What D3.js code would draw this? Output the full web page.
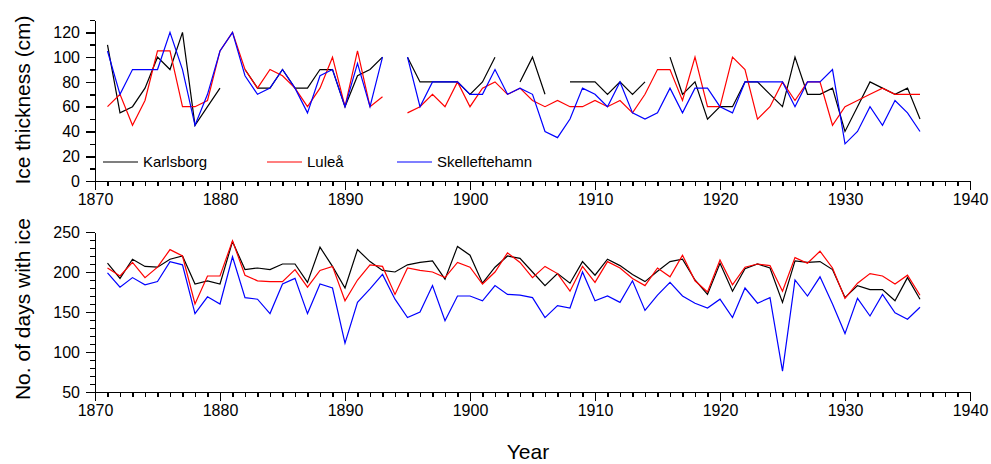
<!DOCTYPE html>
<html>
<head>
<meta charset="utf-8">
<script src="https://cdn.jsdelivr.net/npm/d3@7"></script>
<style>
  html, body { margin: 0; padding: 0; background: #fff; }
  svg { display: block; font-family: "Liberation Sans", Arial, sans-serif; }
  .axis path, .axis line { stroke: #000; stroke-width: 1.6px; shape-rendering: crispEdges; }
  .axis text { font-size: 16px; fill: #000; font-family: "Liberation Sans", Arial, sans-serif; }
</style>
</head>
<body>
<svg id="chart" width="991" height="464"></svg>
<script>
// Years of record
const years = d3.range(1871, 1937);

// Maximum ice thickness (cm); null = no observation
const karlsborgThickness = [110,55,60,75,100,90,120,45,60,75, null,90,75,75,90,75,75,90,90,60, 85,90,100,null,100,80,80,80,80,70, 80,100,null,80,100,70,null,80,80,80, 70,80,70,80,null,100,70,80,50,60, 60,80,80,70,60,100,70,70,75,40, 60,80,75,70,75,50];
const luleaThickness     = [60,70,45,65,105,105,60,60,65,105, 120,90,75,90,85,75,60,75,100,60, 105,60,68,null,55,60,70,60,80,60, 75,80,70,75,65,60,65,60,60,65, 60,65,55,70,90,90,65,100,60,60, 100,90,50,60,80,65,80,80,45,60, 65,70,75,70,70,70];
const skellefteThickness = [105,70,90,90,90,120,90,45,70,105, 120,85,70,75,90,75,55,85,90,60, 95,60,100,null,100,60,80,80,80,70, 70,90,70,75,70,40,35,50,75,70, 60,80,55,50,55,75,55,75,75,60, 55,80,80,80,80,60,80,80,90,30, 40,60,45,65,55,40];

// Number of days with ice
const karlsborgDays = [211,192,216,207,206,216,220,185,189,185, 238,203,205,203,210,210,187,231,207,180, 228,213,202,200,209,212,214,191,232,221, 186,206,220,217,200,183,198,186,213,196, 216,208,197,188,201,213,216,190,172,211, 176,204,210,205,162,214,212,213,203,168, 183,178,178,164,193,166];
const luleaDays     = [205,195,212,193,206,228,220,160,195,195, 239,196,189,188,188,203,181,202,207,164, 190,209,207,172,205,202,200,193,212,206, 185,200,224,212,193,207,198,176,207,187, 213,205,192,183,205,194,221,189,175,215, 184,206,210,208,176,218,211,226,205,167, 186,198,195,185,196,171];
const skellefteDays = [199,181,193,184,188,213,209,148,169,160, 219,168,166,148,185,192,148,185,180,111, 162,179,197,166,143,150,183,139,170,170, 164,183,172,171,168,143,158,155,200,164, 170,162,189,152,171,187,170,161,155,166, 143,180,161,168,76,190,170,194,160,123, 167,145,172,149,141,156];

const stationNames  = ["Karlsborg", "Luleå", "Skelleftehamn"];
const stationColors = ["#000000", "#ff0000", "#0000ff"];

// Axis tick values
const xMajorTicks = d3.range(1870, 1941, 10);
const xMinorTicks = d3.range(1870, 1941, 1);
const thickMajorTicks = [0, 20, 40, 60, 80, 100, 120];
const thickMinorTicks = d3.range(0, 131, 10);
const daysMajorTicks = [50, 100, 150, 200, 250];
const daysMinorTicks = d3.range(50, 251, 10);

const svg = d3.select("#chart");

const x = d3.scaleLinear().domain([1870, 1940]).range([95, 970]);
const yThick = d3.scaleLinear().domain([0, 130]).range([181, 20]);
const yDays  = d3.scaleLinear().domain([50, 250]).range([392, 232]);

function drawXAxis(yPos) {
  svg.append("g").attr("class", "axis")
    .attr("transform", `translate(0,${yPos})`)
    .call(d3.axisBottom(x).tickValues(xMinorTicks).tickSize(5).tickSizeOuter(0).tickFormat(""));
  const g = svg.append("g").attr("class", "axis")
    .attr("transform", `translate(0,${yPos})`)
    .call(d3.axisBottom(x).tickValues(xMajorTicks).tickSize(9).tickSizeOuter(0).tickPadding(4).tickFormat(d3.format("d")));
  g.select(".domain").remove();
}

function drawYAxis(scale, major, minor) {
  svg.append("g").attr("class", "axis")
    .attr("transform", "translate(95,0)")
    .call(d3.axisLeft(scale).tickValues(minor).tickSize(5).tickSizeOuter(0).tickFormat(""));
  const g = svg.append("g").attr("class", "axis")
    .attr("transform", "translate(95,0)")
    .call(d3.axisLeft(scale).tickValues(major).tickSize(9).tickSizeOuter(0).tickPadding(6).tickFormat(d3.format("d")));
  g.select(".domain").remove();
}

function drawSeries(values, scale, color) {
  const line = d3.line()
    .defined(d => d[1] != null)
    .x(d => x(d[0]))
    .y(d => scale(d[1]));
  svg.append("path")
    .datum(years.map((yr, i) => [yr, values[i]]))
    .attr("fill", "none")
    .attr("stroke", color)
    .attr("stroke-width", 1.2)
    .attr("stroke-linejoin", "miter")
    .attr("d", line);
}

// Upper panel: ice thickness
drawXAxis(181);
drawYAxis(yThick, thickMajorTicks, thickMinorTicks);
[karlsborgThickness, luleaThickness, skellefteThickness].forEach((s, i) => drawSeries(s, yThick, stationColors[i]));

// Lower panel: days with ice
drawXAxis(392);
drawYAxis(yDays, daysMajorTicks, daysMinorTicks);
[karlsborgDays, luleaDays, skellefteDays].forEach((s, i) => drawSeries(s, yDays, stationColors[i]));

// Legend
const legendX = [103, 267, 397];
stationNames.forEach((name, i) => {
  svg.append("line")
    .attr("x1", legendX[i]).attr("x2", legendX[i] + 35)
    .attr("y1", 162).attr("y2", 162)
    .attr("stroke", stationColors[i]).attr("stroke-width", 1.2);
  svg.append("text")
    .attr("x", legendX[i] + 40).attr("y", 167)
    .attr("font-size", 15).attr("fill", "#000")
    .text(name);
});

// Axis titles
svg.append("text")
  .attr("transform", "translate(30,100) rotate(-90)")
  .attr("text-anchor", "middle")
  .attr("font-size", 21)
  .text("Ice thickness (cm)");
svg.append("text")
  .attr("transform", "translate(30,309) rotate(-90)")
  .attr("text-anchor", "middle")
  .attr("font-size", 21)
  .text("No. of days with ice");
svg.append("text")
  .attr("x", 528).attr("y", 459)
  .attr("text-anchor", "middle")
  .attr("font-size", 21)
  .text("Year");
</script>
</body>
</html>
